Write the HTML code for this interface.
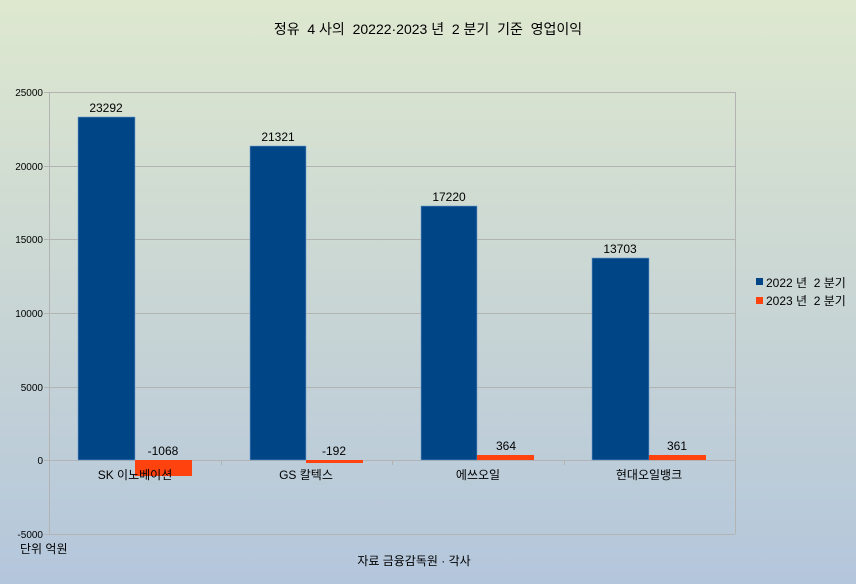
<!DOCTYPE html>
<html><head><meta charset="utf-8"><style>
html,body{margin:0;padding:0;width:856px;height:584px;overflow:hidden;}
html{background:#b4c6dc;}
body{background:linear-gradient(to bottom,#dee8cf 0%,#c9d6d4 50%,#b4c6dc 100%);}
svg{display:block;}
svg text{font-family:"Liberation Sans","Noto Sans CJK KR",sans-serif;fill:#000;white-space:pre;}
</style></head><body>
<svg width="856" height="584" viewBox="0 0 856 584" xmlns="http://www.w3.org/2000/svg">
<text x="428" y="34" font-size="14" text-anchor="middle" xml:space="preserve">정유  4 사의  20222·2023 년  2 분기  기준  영업이익</text>
<g stroke="#b3b3b3" stroke-width="1">
<line x1="44" y1="92.5" x2="735" y2="92.5"/>
<line x1="44" y1="166.5" x2="735" y2="166.5"/>
<line x1="44" y1="239.5" x2="735" y2="239.5"/>
<line x1="44" y1="313.5" x2="735" y2="313.5"/>
<line x1="44" y1="387.5" x2="735" y2="387.5"/>
<line x1="44" y1="460.5" x2="735" y2="460.5"/>
<line x1="44" y1="534.5" x2="735" y2="534.5"/>
<line x1="49.5" y1="92" x2="49.5" y2="534"/>
<line x1="735.5" y1="92" x2="735.5" y2="534"/>
<line x1="221.5" y1="460" x2="221.5" y2="465"/>
<line x1="392.5" y1="460" x2="392.5" y2="465"/>
<line x1="564.5" y1="460" x2="564.5" y2="465"/>
</g>
<g font-size="10" text-anchor="end">
<text x="43" y="96">25000</text>
<text x="43" y="170">20000</text>
<text x="43" y="243">15000</text>
<text x="43" y="317">10000</text>
<text x="43" y="391">5000</text>
<text x="43" y="464">0</text>
<text x="43" y="538">-5000</text>
</g>
<g fill="#004586" stroke="#6f9fcf" stroke-width="0.6">
<rect x="78" y="117" width="57" height="343"/>
<rect x="250" y="146" width="56" height="314"/>
<rect x="421" y="206" width="56" height="254"/>
<rect x="592" y="258" width="57" height="202"/>
</g>
<g fill="#ff420e">
<rect x="135" y="460" width="57" height="16"/>
<rect x="306" y="460" width="57" height="3"/>
<rect x="477" y="455" width="57" height="5"/>
<rect x="649" y="455" width="57" height="5"/>
</g>
<g font-size="12" text-anchor="middle">
<text x="106" y="112">23292</text>
<text x="278" y="141">21321</text>
<text x="449" y="201">17220</text>
<text x="620" y="253">13703</text>
<text x="163" y="455">-1068</text>
<text x="334" y="455">-192</text>
<text x="506" y="450">364</text>
<text x="677" y="450">361</text>
<text x="135" y="479">SK 이노베이션</text>
<text x="306" y="479">GS 칼텍스</text>
<text x="478" y="479">에쓰오일</text>
<text x="649" y="479">현대오일뱅크</text>
<text x="20" y="553" text-anchor="start">단위 억원</text>
<text x="414" y="565">자료 금융감독원 · 각사</text>
</g>
<rect x="756" y="278" width="7" height="7" fill="#004586"/>
<rect x="756" y="297" width="7" height="7" fill="#ff420e"/>
<g font-size="12">
<text x="766" y="287" xml:space="preserve">2022 년  2 분기</text>
<text x="766" y="305" xml:space="preserve">2023 년  2 분기</text>
</g>
</svg>
</body></html>
